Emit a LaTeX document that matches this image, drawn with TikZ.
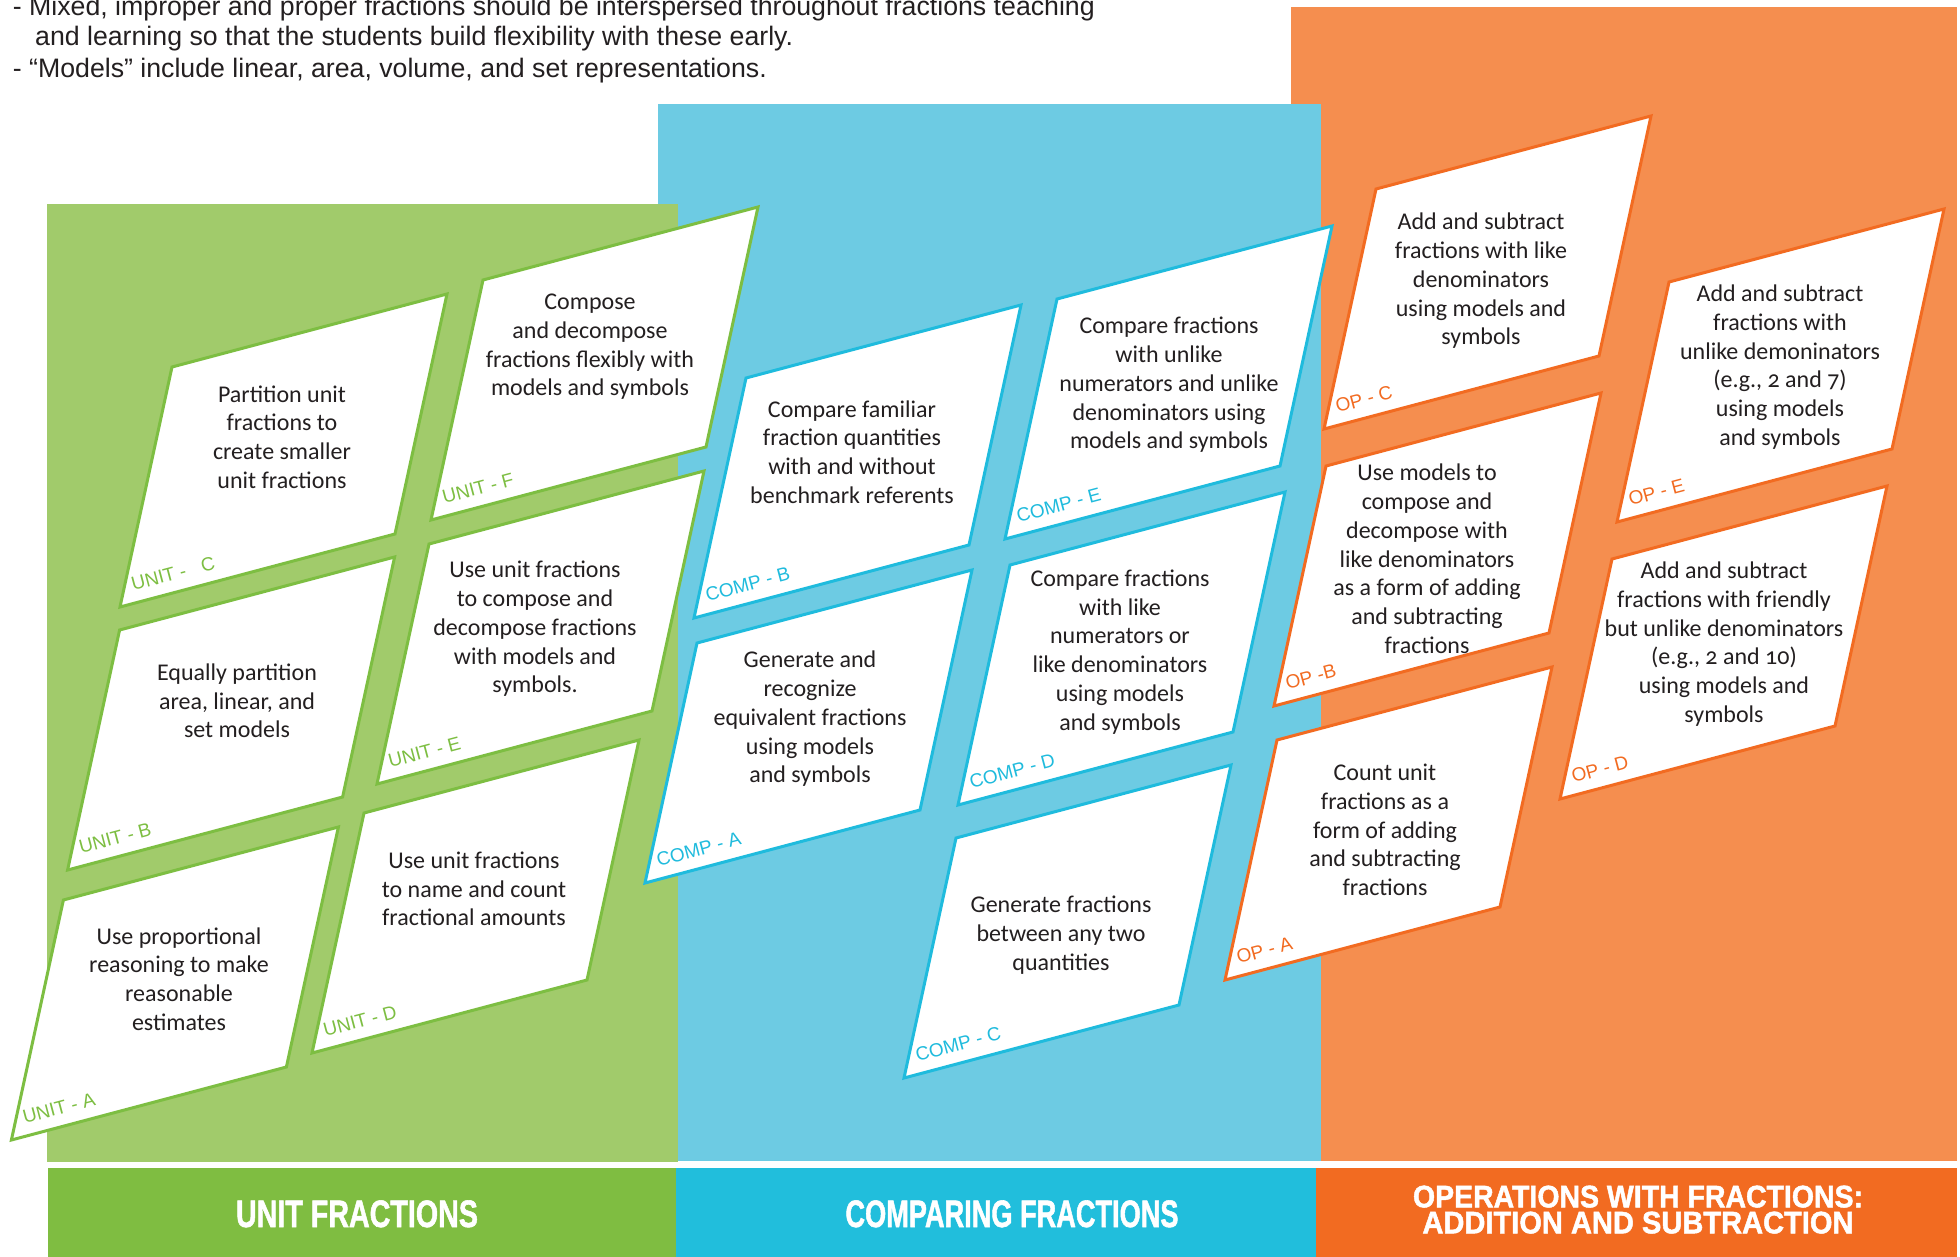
\documentclass[tikz,border=0pt]{standalone}
\usepackage{fontspec}
\usepackage{graphicx}
\setmainfont{Carlito}[Numbers=OldStyle]
\newfontfamily\hdrfont{Liberation Sans}
\newfontfamily\ttlfont{Liberation Sans}[BoldFeatures={FakeBold=1.6}]
\usetikzlibrary{calc}
\definecolor{gpanel}{HTML}{A1CB6B}
\definecolor{gbar}{HTML}{7FBD41}
\definecolor{gline}{HTML}{7DBE42}
\definecolor{bpanel}{HTML}{6DCBE3}
\definecolor{bbar}{HTML}{21BEDC}
\definecolor{bline}{HTML}{1FBBDD}
\definecolor{opanel}{HTML}{F58E4F}
\definecolor{obar}{HTML}{F26B21}
\definecolor{oline}{HTML}{F26B21}
\definecolor{txt}{HTML}{231F20}
\tikzset{
  cardline/.style={line width=3pt, fill=white, line join=miter},
  cardlab/.style={anchor=base west, rotate=14.9, inner sep=0pt, font=\hdrfont\fontsize{19}{19}\selectfont},
  cardtxt/.style={align=center, inner sep=0pt, text=txt, font=\fontsize{24}{28.75}\selectfont},
  hdr/.style={anchor=base west, inner sep=0pt, text=txt, font=\hdrfont\fontsize{26.7}{30}\selectfont},
  ttl/.style={anchor=base, inner sep=0pt, text=white, font=\ttlfont\bfseries},
}
\newcommand\card[6]{%
  \coordinate (#1) at (#2);
  \draw[cardline, draw=#3] (#1) -- ++(275,-73) -- ++(-52,240) -- ++(-275,73) -- cycle;
  \node[cardlab, text=#3] (#1-lab) at ($(#1)+(-38.7,224)$) {#4};
  \node[cardtxt] (#1-txt) at (#5) {#6};
}
\begin{document}
\begin{tikzpicture}[x=1pt,y=-1pt]
\useasboundingbox (0,0) rectangle (1960,1257);
% panels
\fill[opanel] (1291,7.5) rectangle (1957,1161);
\fill[bpanel] (658,104) rectangle (1321,1161);
\fill[gpanel] (46.5,204) rectangle (677.7,1162);
% bars
\fill[gbar] (47.5,1168) rectangle (676,1257);
\fill[bbar] (676,1168) rectangle (1316,1257);
\fill[obar] (1316,1168) rectangle (1957,1257);
% header
\node[hdr] (h1) at (12.7,16) {- Mixed, improper and proper fractions should be interspersed throughout fractions teaching};
\node[hdr] (h2) at (35,46) {and learning so that the students build flexibility with these early.};
\node[hdr] (h3) at (12.7,78) {- “Models” include linear, area, volume, and set representations.};
% titles
\node[ttl] (t1) at (357,1227) {\resizebox{242pt}{26.7pt}{UNIT FRACTIONS}};
\node[ttl] (t2) at (1012,1227) {\resizebox{333pt}{26.7pt}{COMPARING FRACTIONS}};
\node[ttl] (t3) at (1638,1207.3) {\resizebox{450pt}{21.7pt}{OPERATIONS WITH FRACTIONS:}};
\node[ttl] (t4) at (1638,1233.3) {\resizebox{431pt}{21.7pt}{ADDITION AND SUBTRACTION}};
% unit cards
\card{ua}{63.4,900}{gline}{UNIT - A}{179,979}{Use proportional\\reasoning to make\\reasonable\\estimates}
\card{ub}{119.6,630}{gline}{UNIT - B}{237,701}{Equally partition\\area, linear, and\\set models}
\card{uc}{172,367}{gline}{UNIT -\ \ \ C}{282,437}{Partition unit\\fractions to\\create smaller\\unit fractions}
\card{ud}{364,813}{gline}{UNIT - D}{474,889}{Use unit fractions\\to name and count\\fractional amounts}
\card{ue}{429,544}{gline}{UNIT - E}{535,629}{Use unit fractions\\to compose and\\decompose fractions\\with models and\\symbols.}
\card{uf}{483,280}{gline}{UNIT - F}{590,347}{Compose\\and decompose\\fractions flexibly with\\models and symbols}
% comparing cards
\card{ca}{697,643}{bline}{COMP - A}{810,719}{Generate and\\recognize\\equivalent fractions\\using models\\and symbols}
\card{cb}{746,378}{bline}{COMP - B}{852,452}{Compare familiar\\fraction quantities\\with and without\\benchmark referents}
\card{cc}{956,838}{bline}{COMP - C}{1061,935}{Generate fractions\\between any two\\quantities}
\card{cd}{1010,565}{bline}{COMP - D}{1120,652}{Compare fractions\\with like\\numerators or\\like denominators\\using models\\and symbols}
\card{ce}{1057,299}{bline}{COMP - E}{1169,385}{Compare fractions\\with unlike\\numerators and unlike\\denominators using\\models and symbols}
% operation cards
\card{oa}{1277,740}{oline}{OP - A}{1385,830}{Count unit\\fractions as a\\form of adding\\and subtracting\\fractions}
\card{ob}{1326,466}{oline}{OP -B}{1427,559}{Use models to\\compose and\\decompose with\\like denominators\\as a form of adding\\and subtracting\\fractions}
\card{oc}{1376,189}{oline}{OP - C}{1481,281}{Add and subtract\\fractions with like\\denominators\\using models and\\symbols}
\card{od}{1612,559}{oline}{OP - D}{1724,644}{Add and subtract\\fractions with friendly\\but unlike denominators\\(e.g., 2 and 10)\\using models and\\symbols}
\card{oe}{1669,282}{oline}{OP - E}{1780,367}{Add and subtract\\fractions with\\unlike demoninators\\(e.g., 2 and 7)\\using models\\and symbols}
\end{tikzpicture}
\end{document}
